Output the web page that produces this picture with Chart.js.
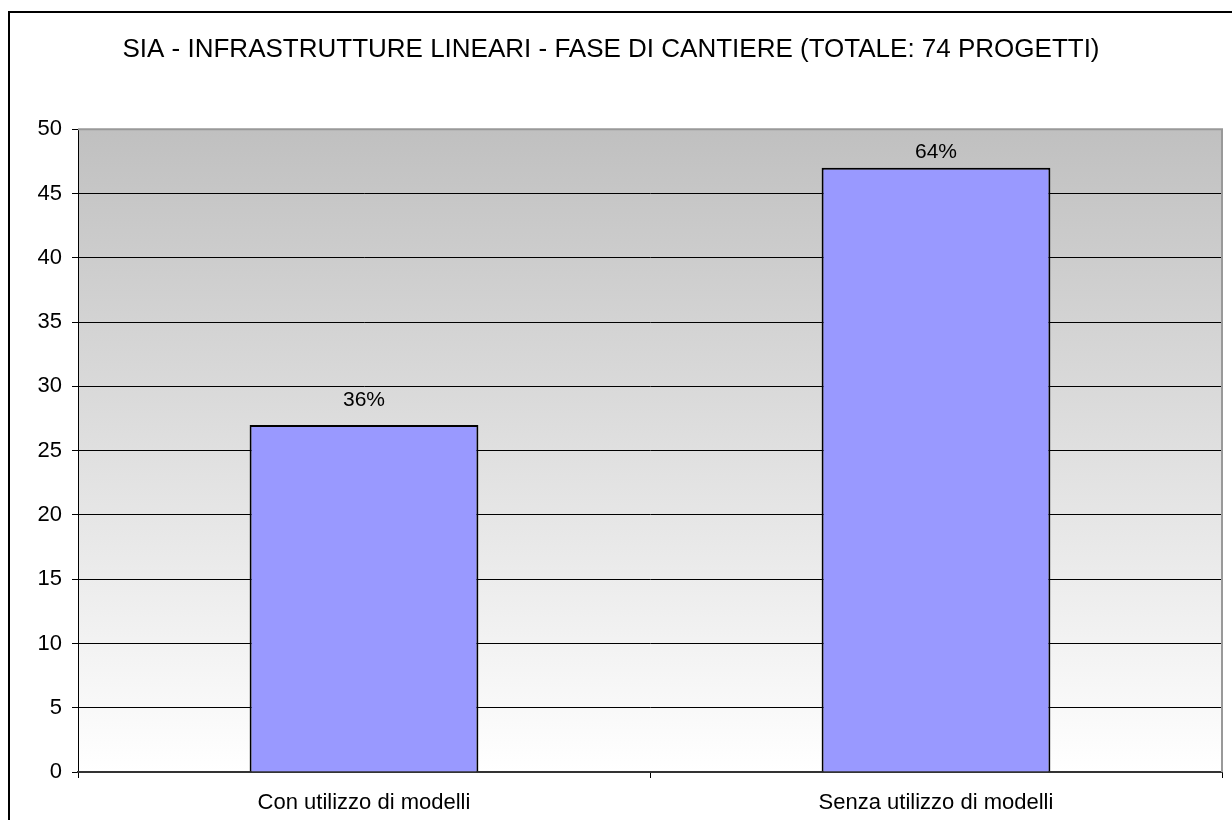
<!DOCTYPE html>
<html>
<head>
<meta charset="utf-8">
<script src="https://cdn.jsdelivr.net/npm/chart.js@4/dist/chart.umd.min.js"></script>
<style>
  html, body { margin: 0; padding: 0; background: #fff; }
  #wrap { width: 1232px; height: 820px; }
</style>
</head>
<body>
<div id="wrap"><canvas id="grafico" width="1232" height="820"></canvas></div>
<script>
// SIA - infrastrutture lineari, fase di cantiere
const categorie   = ['Con utilizzo di modelli', 'Senza utilizzo di modelli'];
const progetti    = [27, 47];
const percentuali = ['36%', '64%'];
const tickY       = [0, 5, 10, 15, 20, 25, 30, 35, 40, 45, 50];

const FONT = '"Liberation Sans", Arial, sans-serif';

// sfondo sfumato dell'area del grafico + cornice esterna
const sfondo = {
  id: 'sfondo',
  beforeDraw(chart) {
    const { ctx, chartArea: a } = chart;
    ctx.save();
    ctx.fillStyle = '#fff';
    ctx.fillRect(0, 0, chart.width, chart.height);
    ctx.strokeStyle = '#000';
    ctx.lineWidth = 2;
    ctx.strokeRect(9, 12, chart.width + 20, chart.height + 20);
    const g = ctx.createLinearGradient(0, a.top, 0, a.bottom);
    g.addColorStop(0, '#c0c0c0');
    g.addColorStop(1, '#ffffff');
    ctx.fillStyle = g;
    ctx.fillRect(a.left, a.top, a.right - a.left, a.bottom - a.top);
    ctx.restore();
  },
  afterDraw(chart) {
    const { ctx, chartArea: a } = chart;
    ctx.save();
    ctx.strokeStyle = '#999';
    ctx.lineWidth = 2;
    ctx.beginPath();
    ctx.moveTo(a.left, a.top);
    ctx.lineTo(a.right, a.top);
    ctx.lineTo(a.right, a.bottom);
    ctx.stroke();
    ctx.restore();
  }
};

// etichette percentuali sopra le barre (tenute dentro l'area del grafico)
const etichette = {
  id: 'etichette',
  afterDatasetsDraw(chart) {
    const { ctx, chartArea: a } = chart;
    const meta = chart.getDatasetMeta(0);
    ctx.save();
    ctx.fillStyle = '#000';
    ctx.font = '21px ' + FONT;
    ctx.textAlign = 'center';
    ctx.textBaseline = 'middle';
    meta.data.forEach((bar, i) => {
      const y = Math.max(bar.y - 25, a.top + 23);
      ctx.fillText(percentuali[i], bar.x, y);
    });
    ctx.restore();
  }
};

new Chart(document.getElementById('grafico'), {
  type: 'bar',
  data: {
    labels: categorie,
    datasets: [{
      data: progetti,
      backgroundColor: '#9999ff',
      borderColor: '#000',
      borderWidth: 2,
      barPercentage: 0.4,
      categoryPercentage: 1,
    }]
  },
  options: {
    responsive: false,
    animation: false,
    devicePixelRatio: 1,
    layout: { padding: { left: 0, right: 10, top: 0, bottom: 0 } },
    plugins: {
      legend: { display: false },
      tooltip: { enabled: false },
      title: {
        display: true,
        text: 'SIA - INFRASTRUTTURE LINEARI - FASE DI CANTIERE (TOTALE: 74 PROGETTI)',
        color: '#000',
        font: { family: FONT, size: 26, weight: 'normal' },
        padding: { top: 34, bottom: 64 },
      }
    },
    scales: {
      y: {
        min: 0,
        max: 50,
        afterFit: s => { s.width = 78; },
        afterBuildTicks: s => { s.ticks = tickY.map(v => ({ value: v })); },
        ticks: { color: '#000', padding: 10, font: { family: FONT, size: 22 } },
        grid: {
          color: c => (c.tick && c.tick.value === 50) ? 'rgba(0,0,0,0)' : '#000',
          tickColor: '#000',
          tickLength: 6,
          lineWidth: 1,
        },
        border: { color: '#000', width: 1 },
      },
      x: {
        afterFit: s => { s.height = 48; },
        ticks: { color: '#000', padding: 12, font: { family: FONT, size: 22 } },
        grid: {
          offset: true,
          drawOnChartArea: false,
          tickColor: '#000',
          tickLength: 6,
        },
        border: { color: '#333', width: 2 },
      }
    }
  },
  plugins: [sfondo, etichette]
});
</script>
</body>
</html>
